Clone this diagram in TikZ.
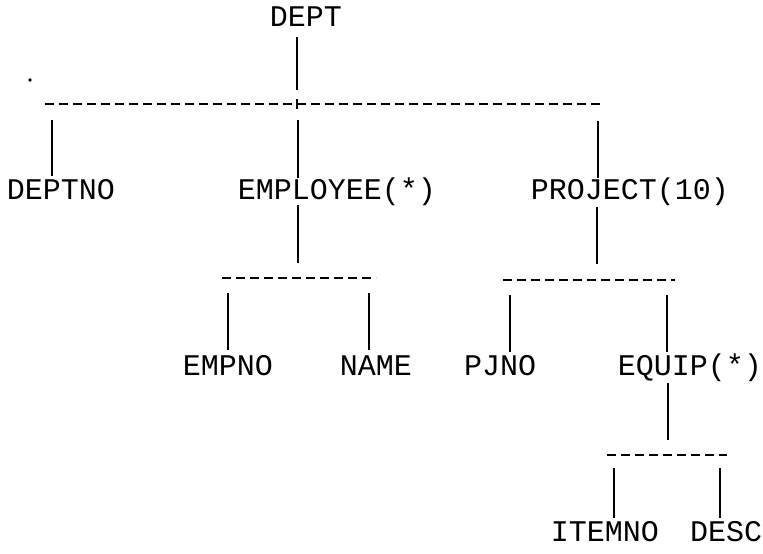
\documentclass[tikz,border=0pt]{standalone}
\usepackage{fontspec}
\setmonofont{Liberation Mono}
\begin{document}
\begin{tikzpicture}[x=1pt,y=-1pt,
  lbl/.style={font=\ttfamily\fontsize{30}{30}\selectfont, inner sep=0pt, anchor=base},
  bus/.style={line width=2.4pt, dash pattern=on 9pt off 5pt},
  link/.style={line width=1.8pt}]
\useasboundingbox (0,0) rectangle (763,554);
% labels
\node[lbl] (dept) at (306,26) {DEPT};
\node[lbl] (deptno) at (61,199) {DEPTNO};
\node[lbl] (emp) at (337,199) {EMPLOYEE(*)};
\node[lbl] (proj) at (630,199) {PROJECT(10)};
\node[lbl] (empno) at (228,375) {EMPNO};
\node[lbl] (name) at (376,375) {NAME};
\node[lbl] (pjno) at (500,375) {PJNO};
\node[lbl] (equip) at (690,375) {EQUIP(*)};
\node[lbl] (itemno) at (605,541) {ITEMNO};
\node[lbl] (desc) at (726,541) {DESC};
% dashed buses
\coordinate (b1l) at (45,104); \coordinate (b1r) at (603,104);
\coordinate (b2l) at (222,278); \coordinate (b2r) at (376,278);
\coordinate (b3l) at (503,280); \coordinate (b3r) at (675,280);
\coordinate (b4l) at (607,455); \coordinate (b4r) at (727,455);
\draw[bus] (b1l) -- (b1r);
\draw[bus] (b2l) -- (b2r);
\draw[bus] (b3l) -- (b3r);
\draw[bus] (b4l) -- (b4r);
% stray dot
\fill (30,80) circle (1.8pt);
% links
\draw[link] (297,37) -- (297,90);
\draw[link] (297,99) -- (297,109);
\draw[link] (52,120) -- (52,176);
\draw[link] (298,120) -- (298,178);
\draw[link] (598,121) -- (598,178);
\draw[link] (298,205) -- (298,263);
\draw[link] (597,207) -- (597,264);
\draw[link] (228,293) -- (228,350);
\draw[link] (369,293) -- (369,350);
\draw[link] (510,295) -- (510,352);
\draw[link] (667,295) -- (667,352);
\draw[link] (668,383) -- (668,440);
\draw[link] (614,468) -- (614,518);
\draw[link] (720,468) -- (720,518);
\end{tikzpicture}
\end{document}
